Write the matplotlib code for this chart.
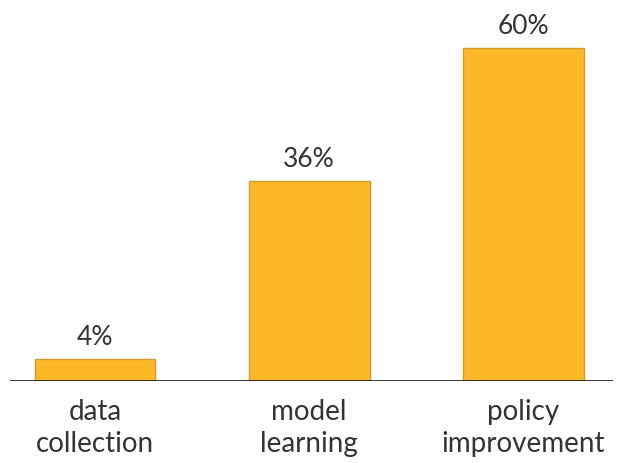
import matplotlib.pyplot as plt

stages = ["data\ncollection", "model\nlearning", "policy\nimprovement"]
shares = [4, 36, 60]
labels = ["4%", "36%", "60%"]

plt.rcParams['font.family'] = ['Lato', 'DejaVu Sans']

fig = plt.figure(figsize=(6.23, 4.64), dpi=100)
ax = fig.add_axes([10 / 623, 82 / 464, 603 / 623, 372 / 464])

x = range(len(shares))
bars = ax.bar(x, shares, width=0.565, color="#FDB827", edgecolor="#D29A2A",
              linewidth=1.0, zorder=2)

for b, txt in zip(bars, labels):
    ax.annotate(txt, (b.get_x() + b.get_width() / 2, b.get_height()),
                xytext=(0, 7), textcoords="offset points", ha="center",
                va="bottom", fontsize=19, color="#333333")

ax.set_xlim(-0.397, 2.42)
ax.set_ylim(0, 67.03)
ax.axhline(0, color="black", linewidth=1.8, zorder=3)

ax.set_xticks(list(x))
ax.set_xticklabels(stages, fontsize=20, color="#333333", linespacing=1.28)
ax.tick_params(axis="x", length=0, pad=12)
ax.set_yticks([])
for s in ax.spines.values():
    s.set_visible(False)

fig.savefig("out.png", dpi=100)
